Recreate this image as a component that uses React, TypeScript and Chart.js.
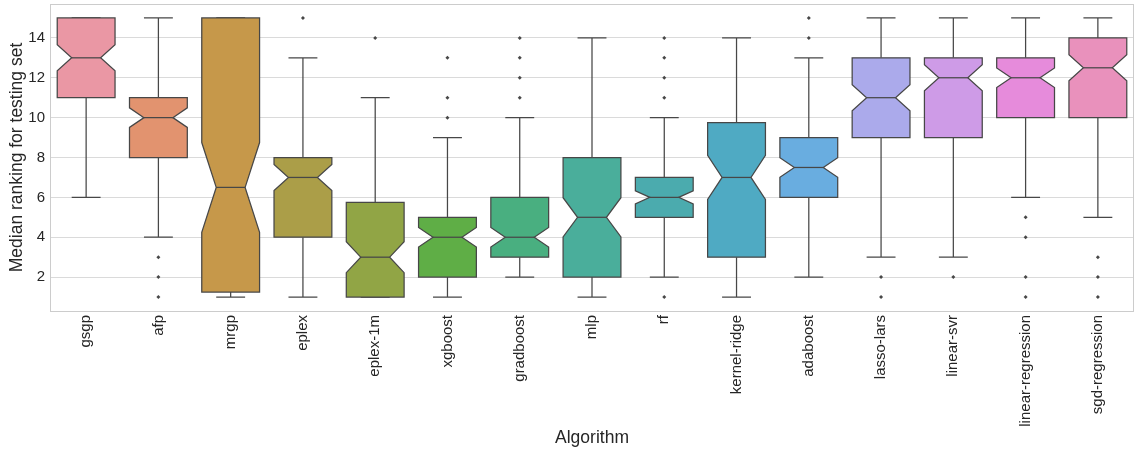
import React, { useEffect, useRef } from "react";
import { Chart, registerables } from "chart.js";

Chart.register(...registerables);

const categories = [
  "gsgp", "afp", "mrgp", "eplex", "eplex-1m", "xgboost", "gradboost", "mlp",
  "rf", "kernel-ridge", "adaboost", "lasso-lars", "linear-svr", "linear-regression", "sgd-regression",
];
const whiskerLow = [6, 4, 1, 1, 1, 1, 2, 1, 2, 1, 2, 3, 3, 6, 5];
const q1 = [11, 8, 1.25, 4, 1, 2, 3, 2, 5, 3, 6, 9, 9, 10, 10];
const median = [13, 10, 6.5, 7, 3, 4, 4, 5, 6, 7, 7.5, 11, 12, 12, 12.5];
const q3 = [15, 11, 15, 8, 5.75, 5, 6, 8, 7, 9.75, 9, 13, 13, 13, 14];
const whiskerHigh = [15, 15, 15, 13, 11, 9, 10, 14, 10, 14, 13, 15, 15, 15, 15];
const outliers: number[][] = [
  [], [3, 2, 1], [], [15], [14], [13, 11, 10], [14, 13, 12, 11], [],
  [14, 13, 12, 11, 1], [], [15, 14], [2, 1], [2], [5, 4, 2, 1], [3, 2, 1],
];
const sampleSize = 92;
const colors = [
  "#EA97A4", "#E2936F", "#C6984A", "#AB9E48", "#91A545", "#5FAE46", "#49AF80",
  "#4AAE9B", "#4BABAE", "#4FAAC3", "#69ADE0", "#ABAAEB", "#CE9BE7", "#E68BDB", "#E991BC",
];
const yTicks = [2, 4, 6, 8, 10, 12, 14];

const EDGE = "#474747";
const FONT = "'Liberation Sans', Arial, sans-serif";

const boxPlugin = {
  id: "boxes",
  beforeDatasetsDraw(chart: any) {
    const { ctx, chartArea } = chart;
    const xs = chart.scales.x;
    const ys = chart.scales.y;
    const step = xs.getPixelForValue(1) - xs.getPixelForValue(0);
    const bw = step * 0.8;
    ctx.save();
    ctx.beginPath();
    ctx.rect(chartArea.left, chartArea.top, chartArea.right - chartArea.left, chartArea.bottom - chartArea.top);
    ctx.clip();
    ctx.lineWidth = 1.25;
    ctx.strokeStyle = EDGE;
    categories.forEach((_, i) => {
      const cx = xs.getPixelForValue(i);
      const half = bw / 2;
      const cap = bw / 4;
      const iqr = q3[i] - q1[i];
      const nLo = median[i] - (1.57 * iqr) / Math.sqrt(sampleSize);
      const nHi = median[i] + (1.57 * iqr) / Math.sqrt(sampleSize);
      const yQ1 = ys.getPixelForValue(q1[i]);
      const yQ3 = ys.getPixelForValue(q3[i]);
      const yMed = ys.getPixelForValue(median[i]);
      const yNL = ys.getPixelForValue(nLo);
      const yNH = ys.getPixelForValue(nHi);
      const yWL = ys.getPixelForValue(whiskerLow[i]);
      const yWH = ys.getPixelForValue(whiskerHigh[i]);
      ctx.beginPath();
      ctx.moveTo(cx, yWL);
      ctx.lineTo(cx, yQ1);
      ctx.moveTo(cx, yQ3);
      ctx.lineTo(cx, yWH);
      ctx.moveTo(cx - cap, yWL);
      ctx.lineTo(cx + cap, yWL);
      ctx.moveTo(cx - cap, yWH);
      ctx.lineTo(cx + cap, yWH);
      ctx.stroke();
      ctx.beginPath();
      ctx.moveTo(cx - half, yQ1);
      ctx.lineTo(cx + half, yQ1);
      ctx.lineTo(cx + half, yNL);
      ctx.lineTo(cx + half / 2, yMed);
      ctx.lineTo(cx + half, yNH);
      ctx.lineTo(cx + half, yQ3);
      ctx.lineTo(cx - half, yQ3);
      ctx.lineTo(cx - half, yNH);
      ctx.lineTo(cx - half / 2, yMed);
      ctx.lineTo(cx - half, yNL);
      ctx.closePath();
      ctx.fillStyle = colors[i];
      ctx.fill();
      ctx.stroke();
      ctx.beginPath();
      ctx.moveTo(cx - half / 2, yMed);
      ctx.lineTo(cx + half / 2, yMed);
      ctx.stroke();
    });
    ctx.restore();
  },
  afterDraw(chart: any) {
    const { ctx, chartArea } = chart;
    ctx.save();
    ctx.strokeStyle = "#cccccc";
    ctx.lineWidth = 1;
    ctx.strokeRect(chartArea.left + 0.5, chartArea.top + 0.5, chartArea.right - chartArea.left - 1, chartArea.bottom - chartArea.top);
    ctx.restore();
  },
};

export default function App() {
  const ref = useRef<HTMLCanvasElement>(null);
  useEffect(() => {
    if (!ref.current) return;
    const outlierPoints: { x: string; y: number }[] = [];
    outliers.forEach((arr, i) => arr.forEach((v) => outlierPoints.push({ x: categories[i], y: v })));
    const chart = new Chart(ref.current, {
      type: "bar",
      data: {
        labels: categories,
        datasets: [
          {
            type: "scatter" as any,
            data: outlierPoints as any,
            pointStyle: "rectRot",
            pointRadius: 2,
            backgroundColor: EDGE,
            borderColor: EDGE,
            borderWidth: 0,
          } as any,
        ],
      },
      options: {
        animation: false,
        responsive: false,
        devicePixelRatio: 1,
        layout: { padding: { top: 4, right: 1, left: 0, bottom: 0 } },
        plugins: { legend: { display: false }, tooltip: { enabled: false } },
        scales: {
          x: {
            type: "category",
            offset: true,
            grid: { display: false, drawTicks: false },
            border: { display: false },
            ticks: {
              minRotation: 90,
              maxRotation: 90,
              autoSkip: false,
              padding: 4,
              color: "#262626",
              font: { family: FONT, size: 15 },
            },
            title: {
              display: true,
              text: "Algorithm",
              color: "#262626",
              padding: { top: 4, bottom: 0.5 },
              font: { family: FONT, size: 17.5 },
            },
            afterFit: (s: any) => {
              s.height = 138;
              s.paddingLeft = 0;
              s.paddingRight = 0;
            },
          },
          y: {
            type: "linear",
            min: 0.3,
            max: 15.7,
            grid: { color: "#dadada", lineWidth: 1, drawTicks: false },
            border: { display: false },
            afterBuildTicks: (s: any) => { s.ticks = yTicks.map((v) => ({ value: v })); },
            ticks: {
              padding: 5,
              color: "#262626",
              font: { family: FONT, size: 15 },
            },
            title: {
              display: true,
              text: "Median ranking for testing set",
              color: "#262626",
              padding: { top: 6.5, bottom: 0 },
              font: { family: FONT, size: 17.5 },
            },
            afterFit: (s: any) => {
              s.width = 50;
              s.paddingTop = 0;
              s.paddingBottom = 0;
            },
          },
        },
      },
      plugins: [boxPlugin],
    });
    return () => chart.destroy();
  }, []);
  return (
    <div style={{ position: "absolute", left: 0, top: 0, width: 1138, height: 449, background: "#fff" }}>
      <canvas ref={ref} width={1138} height={449} style={{ width: 1138, height: 449, display: "block" }} />
    </div>
  );
}
